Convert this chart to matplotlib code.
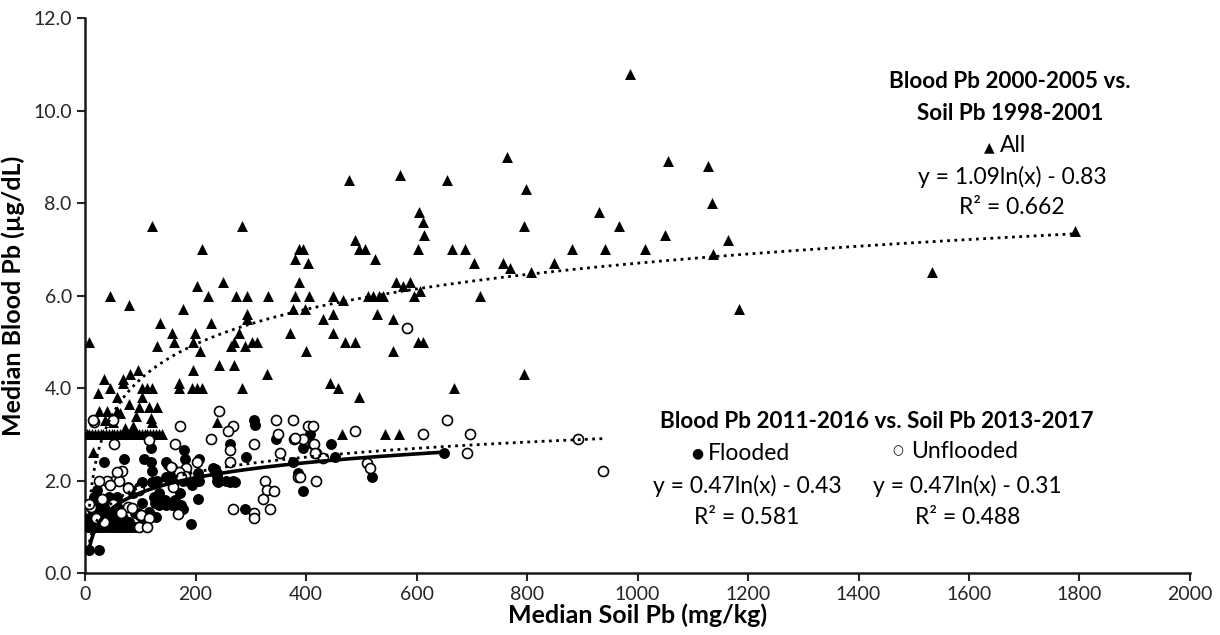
import numpy as np
import matplotlib
matplotlib.use("Agg")
import matplotlib.pyplot as plt

plt.rcParams['font.family'] = ['Lato', 'DejaVu Sans']

# ---- All (Blood Pb 2000-2005 vs Soil Pb 1998-2001), triangles ----
all_x = [987, 764, 1056, 1127, 799, 1134, 930, 605, 612, 614, 477, 571, 656,
         122, 284, 795, 967, 1792, 1050, 489, 1164, 212, 387, 394, 495, 507,
         603, 665, 688, 881, 941, 1014, 1137, 380, 525, 403, 704, 757, 848,
         770, 808, 1533, 202, 249, 388, 563, 588, 576, 606, 45, 222, 274, 293,
         332, 380, 406, 449, 513, 522, 532, 540, 596, 714, 467, 80, 178, 377,
         398, 1183, 293, 449, 528, 430, 557, 293, 136, 228, 157, 199, 279, 371,
         449, 8, 161, 196, 270, 302, 312, 470, 489, 603, 612, 131, 264, 290,
         208, 400, 557, 243, 270, 196, 95, 81, 329, 795, 34, 69, 69, 170, 443,
         24, 46, 104, 113, 122, 170, 194, 203, 212, 284, 457, 668, 57, 104,
         495, 97, 115, 130, 80, 25, 39, 58, 63, 92, 119, 36, 51, 121, 238, 72,
         87, 15,
         3, 8, 13, 18, 23, 28, 33, 38, 43, 48, 53, 58, 63, 68, 73, 78, 83, 88,
         93, 98, 103, 108, 113, 118, 123, 128, 133, 140, 465, 543, 568]
all_y = [10.8, 9.0, 8.9, 8.8, 8.3, 8.0, 7.8, 7.8, 7.6, 7.3, 8.5, 8.6, 8.5,
         7.5, 7.5, 7.5, 7.5, 7.4, 7.3, 7.2, 7.2, 7.0, 7.0, 7.0, 7.0, 7.0,
         7.0, 7.0, 7.0, 7.0, 7.0, 7.0, 6.9, 6.8, 6.8, 6.7, 6.7, 6.7, 6.7,
         6.6, 6.5, 6.5, 6.2, 6.3, 6.3, 6.3, 6.3, 6.2, 6.1, 6.0, 6.0, 6.0, 6.0,
         6.0, 6.0, 6.0, 6.0, 6.0, 6.0, 6.0, 6.0, 6.0, 6.0, 5.9, 5.8, 5.7, 5.7,
         5.7, 5.7, 5.6, 5.6, 5.6, 5.5, 5.5, 5.5, 5.4, 5.4, 5.2, 5.2, 5.2, 5.2,
         5.2, 5.0, 5.0, 5.0, 5.0, 5.0, 5.0, 5.0, 5.0, 5.0, 5.0, 4.9, 4.9, 4.9,
         4.8, 4.8, 4.8, 4.5, 4.5, 4.4, 4.4, 4.3, 4.3, 4.3, 4.2, 4.2, 4.1, 4.1, 4.1,
         3.9, 4.0, 4.0, 4.0, 4.0, 4.0, 4.0, 4.0, 4.0, 4.0, 4.0, 4.0, 3.8, 3.8,
         3.8, 3.6, 3.6, 3.6, 3.65, 3.5, 3.5, 3.5, 3.45, 3.4, 3.35, 3.3, 3.27, 3.27, 3.27, 3.13,
         3.18, 2.62,
         3.0, 3.0, 3.0, 3.0, 3.0, 3.0, 3.0, 3.0, 3.0, 3.0, 3.0, 3.0, 3.0, 3.0,
         3.0, 3.0, 3.0, 3.0, 3.0, 3.0, 3.0, 3.0, 3.0, 3.0, 3.0, 3.0, 3.0, 3.0,
         3.0, 3.0, 3.0]

# ---- Flooded (Blood Pb 2011-2016 vs Soil Pb 2013-2017), filled circles ----
fl_x = [407, 305, 308, 346, 394, 262, 445, 119, 180, 291, 452, 181, 206, 71,
        107, 34, 119, 146, 377, 650, 232, 235, 151, 122, 178, 166, 205, 239,
        386, 238, 160, 147, 157, 519, 131, 161, 178, 207, 238, 256, 268, 240,
        262, 271, 103, 121, 127, 190, 193, 77, 97, 22, 95, 394, 133, 172, 86,
        16, 43, 58, 125, 145, 163, 205, 31, 104, 127, 139, 154, 134, 146, 158,
        173, 166, 178, 290, 115, 90, 95, 98, 113, 119, 128, 103, 192, 7, 25,
        5, 10, 15, 20, 25, 30, 35, 40, 45, 50, 55, 60, 65, 70, 75, 80, 85, 90,
        10, 20, 30, 40, 50, 60, 70, 80, 8, 18, 28, 38, 48, 58, 68,
        15, 30, 45, 60, 20, 40, 60, 12, 52]
fl_y = [3.0, 3.3, 3.2, 2.9, 2.7, 2.8, 2.8, 2.7, 2.67, 2.5, 2.5, 2.46, 2.46, 2.46,
        2.46, 2.4, 2.4, 2.4, 2.4, 2.6, 2.28, 2.26, 2.33, 2.2, 2.2, 2.14, 2.17, 2.17,
        2.17, 2.1, 2.1, 2.08, 2.08, 2.08, 2.0, 2.0, 2.0, 2.0, 2.0, 2.0, 2.0, 1.97,
        1.97, 1.97, 1.97, 1.97, 1.97, 1.97, 1.9, 1.87, 1.87, 1.8, 1.8, 1.78, 1.74, 1.74, 1.72,
        1.65, 1.65, 1.65, 1.65, 1.58, 1.58, 1.59, 1.54, 1.51, 1.51, 1.51, 1.51, 1.47, 1.47, 1.47,
        1.47, 1.45, 1.38, 1.38, 1.33, 1.29, 1.29, 1.25, 1.25, 1.25, 1.22, 1.18, 1.07, 0.5, 0.5,
        1.0, 1.0, 1.0, 1.0, 1.0, 1.0, 1.0, 1.0, 1.0, 1.0, 1.0, 1.0, 1.0, 1.0, 1.0, 1.0, 1.0, 1.0,
        1.1, 1.1, 1.1, 1.1, 1.1, 1.1, 1.1, 1.1, 1.2, 1.2, 1.2, 1.2, 1.2, 1.2, 1.2,
        1.3, 1.3, 1.3, 1.3, 1.4, 1.4, 1.4, 1.5, 1.5]

# ---- Unflooded, open circles ----
un_x = [583, 656, 243, 172, 268, 258, 346, 377, 404, 412, 350, 228, 163, 305,
        262, 378, 395, 413, 418, 353, 430, 262, 202, 183, 157, 386, 418, 325,
        329, 342, 323, 335, 267, 306, 306, 160, 169, 181, 489, 611, 696, 893,
        937, 691, 510, 515, 414, 416, 389, 16, 52, 15, 51, 115, 52, 62, 40,
        67, 58, 25, 10, 77, 98, 101, 116, 98, 113, 77, 170, 173, 155, 380,
        20, 35, 50, 65, 85, 30, 45, 8]
un_y = [5.3, 3.3, 3.5, 3.18, 3.18, 3.08, 3.3, 3.3, 3.18, 3.18, 3.0, 2.9, 2.78, 2.78,
        2.67, 2.9, 2.9, 2.8, 2.59, 2.59, 2.48, 2.39, 2.39, 2.28, 2.28, 2.07, 2.0, 2.0,
        1.79, 1.78, 1.59, 1.38, 1.38, 1.29, 1.18, 1.87, 1.28, 2.1, 3.08, 3.0, 3.0, 2.9,
        2.2, 2.6, 2.37, 2.28, 2.79, 2.59, 2.08, 3.27, 2.8, 3.3, 3.3, 2.88, 2.0, 2.0, 2.0,
        2.2, 2.19, 2.0, 1.43, 1.83, 1.79, 1.25, 1.18, 1.0, 1.0, 1.43, 2.19, 2.08, 2.3, 2.91,
        1.2, 1.1, 1.5, 1.3, 1.4, 1.6, 1.9, 1.5]

# logarithmic trendlines as printed on the chart: y = a ln(x) + b
all_a, all_b = 1.09, -0.83
fl_a, fl_b = 0.47, -0.43
un_a, un_b = 0.47, -0.31

fig = plt.figure(figsize=(12.2, 6.35), dpi=100)
ax = fig.add_axes([0.0697, 0.0976, 0.9057, 0.874])

ax.scatter(all_x, all_y, marker='^', s=62, color='black', linewidths=0, zorder=3)
ax.scatter(fl_x, fl_y, marker='o', s=62, color='black', linewidths=0, zorder=4)
ax.scatter(un_x, un_y, marker='o', s=52, facecolors='white', edgecolors='black',
           linewidths=1.2, zorder=5)

xa = np.linspace(8, max(all_x), 400)
ax.plot(xa, all_a * np.log(xa) + all_b, color='black', linestyle=(0, (1, 1.6)),
        linewidth=2, zorder=6)
xf = np.linspace(7, max(fl_x), 300)
ax.plot(xf, fl_a * np.log(xf) + fl_b, color='black', linewidth=2.6, zorder=6)
xu = np.linspace(8, max(un_x), 300)
ax.plot(xu, un_a * np.log(xu) + un_b, color='black', linestyle=(0, (1, 1.6)),
        linewidth=2, zorder=6)

ax.set_xlim(0, 2000)
ax.set_ylim(0, 12)
ax.set_xticks(np.arange(0, 2001, 200))
ax.set_yticks(np.arange(0, 12.1, 2))
ax.set_yticklabels(['%.1f' % v for v in np.arange(0, 12.1, 2)])
ax.tick_params(direction='out', length=6, width=1.5, labelsize=14, colors='#262626')
ax.tick_params(axis='x', pad=3)
for s in ['top', 'right']:
    ax.spines[s].set_visible(False)
for s in ['left', 'bottom']:
    ax.spines[s].set_linewidth(1.8)
    ax.spines[s].set_color('#1a1a1a')

ax.set_xlabel('Median Soil Pb (mg/kg)', fontsize=18, fontweight='bold', labelpad=1)
ax.set_ylabel('Median Blood Pb (\u00b5g/dL)', fontsize=18, fontweight='bold', labelpad=6)

# annotation blocks
tk = dict(ha='center', va='center', transform=fig.transFigure)
def fx(px):
    return px / 1220.0
def fy(py):
    return 1 - py / 635.0

fig.text(fx(1010), fy(81), 'Blood Pb 2000-2005 vs.', fontsize=16.2, fontweight='bold', **tk)
fig.text(fx(1010), fy(113), 'Soil Pb 1998-2001', fontsize=16.2, fontweight='bold', **tk)
fig.text(fx(989), fy(147), '\u25b2', fontsize=10, family='DejaVu Sans', **tk)
fig.text(fx(1013), fy(145), 'All', fontsize=16.5, **tk)
fig.text(fx(1012), fy(177), 'y = 1.09ln(x) - 0.83', fontsize=16.5, **tk)
fig.text(fx(1012), fy(208), 'R\u00b2 = 0.662', fontsize=16.5, **tk)

fig.text(fx(877), fy(421), 'Blood Pb 2011-2016 vs. Soil Pb 2013-2017', fontsize=16.2,
         fontweight='bold', **tk)
fig.text(fx(697), fy(453), '\u25cf', fontsize=10, family='DejaVu Sans', **tk)
fig.text(fx(749), fy(453), 'Flooded', fontsize=16.5, **tk)
fig.text(fx(898), fy(451), '\u25cb', fontsize=9, family='DejaVu Sans', **tk)
fig.text(fx(965), fy(451), 'Unflooded', fontsize=16.5, **tk)
fig.text(fx(747), fy(486), 'y = 0.47ln(x) - 0.43', fontsize=16.5, **tk)
fig.text(fx(967), fy(486), 'y = 0.47ln(x) - 0.31', fontsize=16.5, **tk)
fig.text(fx(747), fy(518), 'R\u00b2 = 0.581', fontsize=16.5, **tk)
fig.text(fx(968), fy(518), 'R\u00b2 = 0.488', fontsize=16.5, **tk)

fig.savefig('out.png', dpi=100)
